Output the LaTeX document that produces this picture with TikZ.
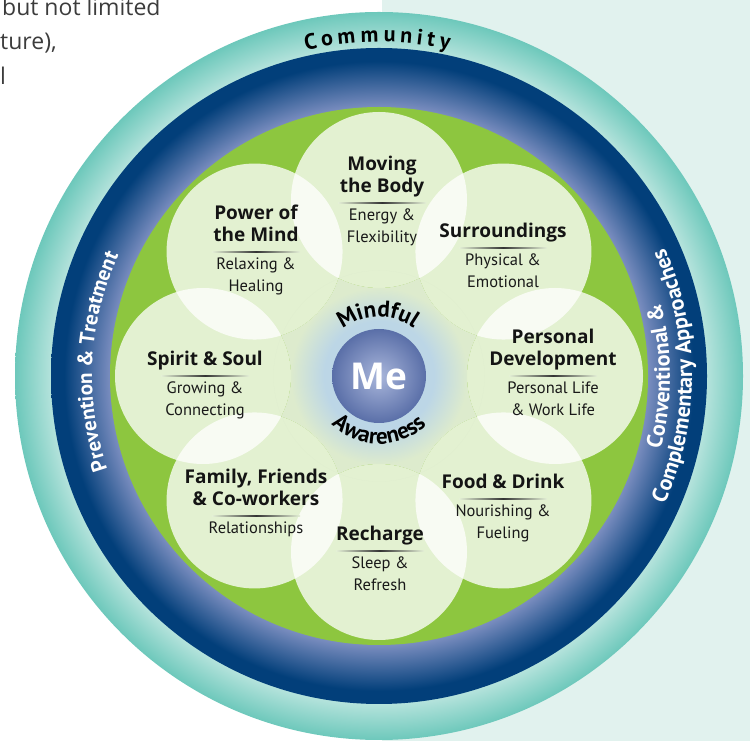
\documentclass[tikz,border=0pt]{standalone}
\usepackage{fontspec}
\setmainfont{Open Sans}
\newfontfamily\petalsubfont{PT Sans}
\newfontfamily\ringfamily{PT Sans}
\usetikzlibrary{calc,positioning,decorations.text}

\definecolor{mint}{HTML}{E1F2EE}
\definecolor{tealdeep}{HTML}{6DC8BB}
\definecolor{tealpale}{HTML}{B5E3DC}
\definecolor{navydeep}{HTML}{023F7A}
\definecolor{navypale}{HTML}{7A8DBF}
\definecolor{leaf}{HTML}{8DC63F}
\definecolor{glowblue}{HTML}{BCD6E6}
\definecolor{glowgreen}{HTML}{DDEBCD}
\definecolor{mepale}{HTML}{A9B6DB}
\definecolor{medeep}{HTML}{5A6FA8}
\definecolor{petalfill}{HTML}{E4F0D6}
\definecolor{inkgrey}{HTML}{3C3C3C}

\pgfdeclareradialshading{tealring}{\pgfpoint{0bp}{0bp}}{color(0bp)=(tealpale); color(22.5bp)=(tealpale); color(25bp)=(tealdeep); color(50bp)=(tealdeep)}
\pgfdeclareradialshading{navyring}{\pgfpoint{0bp}{0bp}}{color(0bp)=(navypale); color(20.5bp)=(navypale); color(24bp)=(navydeep); color(50bp)=(navydeep)}
\pgfdeclareradialshading{centreglow}{\pgfpoint{0bp}{0bp}}{color(0bp)=(glowblue); color(13bp)=(glowblue); color(21bp)=(glowgreen); color(50bp)=(glowgreen)}

\newcommand\ringfont{\ringfamily\fontsize{22bp}{24bp}\selectfont\bfseries}
\newcommand\prevfont{\ringfamily\fontsize{21bp}{24bp}\selectfont\bfseries}
\newcommand\bandfont{\ringfamily\fontsize{22bp}{24bp}\selectfont\bfseries}
\newcommand\mefont{\ringfamily\fontsize{23bp}{24bp}\selectfont\bfseries}

\tikzset{
  petal/.style={fill=white, fill opacity=0.76},
  titletext/.style={font=\fontsize{19bp}{22bp}\selectfont\bfseries, align=center, inner sep=0pt, text=black!92, execute at end node=\strut},
  subtext/.style={font=\petalsubfont\fontsize{16.5bp}{22bp}\selectfont, align=center, inner sep=0pt, text=black!90},
  rulefade/.style={left color=petalfill, right color=petalfill, middle color=black!80},
  ringtext/.style={decorate, decoration={text along path, text align=center, text={#1}}},
  ringletter/.style={anchor=base, inner sep=0pt, font=\ringfont},
  note/.style={anchor=base west, inner sep=0pt, text=inkgrey, font=\fontsize{23bp}{26bp}\selectfont}
}

\begin{document}
\begin{tikzpicture}[x=1bp, y=1bp]
\useasboundingbox (0,0) rectangle (750,741);
\clip (0,0) rectangle (750,741);
\coordinate (C) at (379,365);

% page behind
\fill[mint] (382,0) rectangle (750,741);
\node (note1) [note] at (2,725) {but not limited};
\node (note2) [note] at (0,691) {ture),};
\node (note3) [note] at (0,656) {l};

% rings
\shade[shading=tealring] (C) circle (364);
\shade[shading=navyring] (C) circle (328);
\fill[leaf] (C) circle (269);

% eight petals
\foreach \a in {0,45,...,315}
  \fill[petal] (C) ++(\a:176) circle (88);

% glow in the middle, outside the petals
\begin{scope}[even odd rule]
\clip (C) circle (105.5);
\clip (C) circle (105.5)
  ([shift={(0:176)}]C) circle (88) ([shift={(45:176)}]C) circle (88)
  ([shift={(90:176)}]C) circle (88) ([shift={(135:176)}]C) circle (88)
  ([shift={(180:176)}]C) circle (88) ([shift={(225:176)}]C) circle (88)
  ([shift={(270:176)}]C) circle (88) ([shift={(315:176)}]C) circle (88);
\shade[shading=centreglow] (C) circle (105.5);
\end{scope}

\node (me) [circle, minimum size=94bp, inner color=mepale, outer color=medeep, text=white, font=\fontsize{37bp}{40bp}\selectfont\bfseries] at (C) {Me};

\path[ringtext={|\mefont|Mindful}] ([shift={(145:59)}]C) arc[start angle=145, end angle=37, radius=59];
\path[ringtext={|\mefont|Awareness}] ([shift={(200:68)}]C) arc[start angle=200, end angle=340, radius=68];

% ring labels
\foreach \ch/\a [count=\i] in {C/101.6, o/98.8, m/95.5, m/91.6, u/88.2, n/85.4, i/83.1, t/81.2, y/78.8}
  \node (comm\i) [ringletter, rotate=\a-90] at ([shift={(\a:334)}]C) {\ch};
\path[ringtext={|\prevfont|Prevention {\&} Treatment}, decoration={text color=white}] ([shift={(215:287)}]C) arc[start angle=215, end angle=139, radius=287];
\path[ringtext={|\bandfont|Conventional {\&}}, decoration={text color=white}] ([shift={(-35:291)}]C) arc[start angle=-35, end angle=35, radius=291];
\path[ringtext={|\bandfont|Complementary Approaches}, decoration={text color=white}] ([shift={(-35:313)}]C) arc[start angle=-35, end angle=35, radius=313];

% petal labels
\coordinate (moveR) at (382,538);
\coordinate (surrR) at (503,493);
\coordinate (pdevR) at (553,365);
\coordinate (foodR) at (503,242);
\coordinate (rechR) at (380,190);
\coordinate (famR) at (256,225);
\coordinate (spirR) at (205,365);
\coordinate (mindR) at (256,489);

\foreach \r in {moveR,surrR,pdevR,foodR,rechR,famR,spirR,mindR}
  \shade[rulefade] ([shift={(-44,-0.6)}]\r) rectangle ([shift={(44,0.6)}]\r);

\node (moveT) [titletext, above=3.9bp of moveR] {Moving\\the Body};
\node (moveS) [subtext, below=6bp of moveR] {Energy \&\\Flexibility};
\node (surrT) [titletext, above=3.9bp of surrR] {Surroundings};
\node (surrS) [subtext, below=6bp of surrR] {Physical \&\\Emotional};
\node (pdevT) [titletext, above=3.9bp of pdevR] {Personal\\Development};
\node (pdevS) [subtext, below=6bp of pdevR] {Personal Life\\\& Work Life};
\node (foodT) [titletext, above=3.9bp of foodR] {Food \& Drink};
\node (foodS) [subtext, below=6bp of foodR] {Nourishing \&\\Fueling};
\node (rechT) [titletext, above=3.9bp of rechR] {Recharge};
\node (rechS) [subtext, below=6bp of rechR] {Sleep \&\\Refresh};
\node (famT) [titletext, above=3.9bp of famR] {Family, Friends\\\& Co-workers};
\node (famS) [subtext, below=6bp of famR] {Relationships};
\node (spirT) [titletext, above=3.9bp of spirR] {Spirit \& Soul};
\node (spirS) [subtext, below=6bp of spirR] {Growing \&\\Connecting};
\node (mindT) [titletext, above=3.9bp of mindR] {Power of\\the Mind};
\node (mindS) [subtext, below=6bp of mindR] {Relaxing \&\\Healing};
\end{tikzpicture}
\end{document}
